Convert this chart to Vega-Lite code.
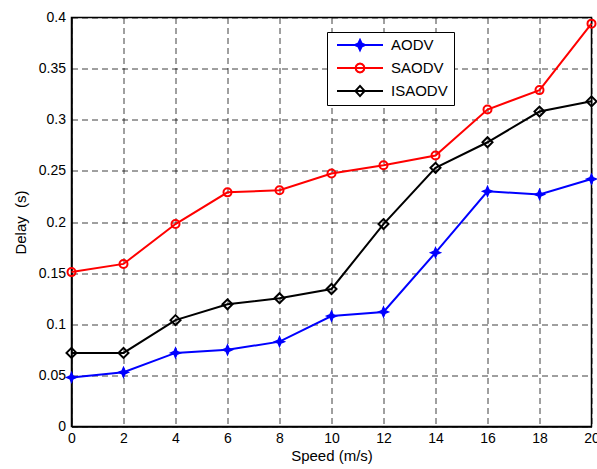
{
  "$schema": "https://vega.github.io/schema/vega-lite/v6.json",
  "width": 520,
  "height": 409,
  "autosize": "none",
  "padding": {"left": 71.5, "top": 17.5, "right": 5.5, "bottom": 42.5},
  "background": "white",
  "config": {
    "font": "Liberation Sans",
    "view": {"stroke": "#000", "strokeWidth": 1.5},
    "axis": {
      "labelFont": "Liberation Sans",
      "titleFont": "Liberation Sans",
      "labelColor": "#000",
      "titleColor": "#000",
      "labelFontSize": 14,
      "titleFontSize": 15,
      "titleFontWeight": "normal",
      "domainColor": "#000",
      "domainWidth": 1.5,
      "ticks": false,
      "grid": true,
      "gridColor": "#000",
      "gridOpacity": 0.75,
      "gridDash": [6, 4],
      "gridWidth": 1
    }
  },
  "data": {
    "values": [
      {"Speed": 0, "Delay": 0.048, "Protocol": "AODV"},
      {"Speed": 2, "Delay": 0.053, "Protocol": "AODV"},
      {"Speed": 4, "Delay": 0.072, "Protocol": "AODV"},
      {"Speed": 6, "Delay": 0.075, "Protocol": "AODV"},
      {"Speed": 8, "Delay": 0.083, "Protocol": "AODV"},
      {"Speed": 10, "Delay": 0.108, "Protocol": "AODV"},
      {"Speed": 12, "Delay": 0.112, "Protocol": "AODV"},
      {"Speed": 14, "Delay": 0.170, "Protocol": "AODV"},
      {"Speed": 16, "Delay": 0.230, "Protocol": "AODV"},
      {"Speed": 18, "Delay": 0.227, "Protocol": "AODV"},
      {"Speed": 20, "Delay": 0.242, "Protocol": "AODV"},
      {"Speed": 0, "Delay": 0.151, "Protocol": "SAODV"},
      {"Speed": 2, "Delay": 0.159, "Protocol": "SAODV"},
      {"Speed": 4, "Delay": 0.198, "Protocol": "SAODV"},
      {"Speed": 6, "Delay": 0.229, "Protocol": "SAODV"},
      {"Speed": 8, "Delay": 0.231, "Protocol": "SAODV"},
      {"Speed": 10, "Delay": 0.2475, "Protocol": "SAODV"},
      {"Speed": 12, "Delay": 0.2555, "Protocol": "SAODV"},
      {"Speed": 14, "Delay": 0.265, "Protocol": "SAODV"},
      {"Speed": 16, "Delay": 0.310, "Protocol": "SAODV"},
      {"Speed": 18, "Delay": 0.329, "Protocol": "SAODV"},
      {"Speed": 20, "Delay": 0.394, "Protocol": "SAODV"},
      {"Speed": 0, "Delay": 0.072, "Protocol": "ISAODV"},
      {"Speed": 2, "Delay": 0.072, "Protocol": "ISAODV"},
      {"Speed": 4, "Delay": 0.104, "Protocol": "ISAODV"},
      {"Speed": 6, "Delay": 0.1195, "Protocol": "ISAODV"},
      {"Speed": 8, "Delay": 0.1255, "Protocol": "ISAODV"},
      {"Speed": 10, "Delay": 0.1345, "Protocol": "ISAODV"},
      {"Speed": 12, "Delay": 0.198, "Protocol": "ISAODV"},
      {"Speed": 14, "Delay": 0.253, "Protocol": "ISAODV"},
      {"Speed": 16, "Delay": 0.278, "Protocol": "ISAODV"},
      {"Speed": 18, "Delay": 0.308, "Protocol": "ISAODV"},
      {"Speed": 20, "Delay": 0.318, "Protocol": "ISAODV"}
    ]
  },
  "encoding": {
    "x": {
      "field": "Speed",
      "type": "quantitative",
      "scale": {"domain": [0, 20], "nice": false, "zero": false},
      "axis": {"values": [0, 2, 4, 6, 8, 10, 12, 14, 16, 18, 20], "title": "Speed (m/s)", "labelPadding": 5, "titlePadding": 3, "labelFlush": false}
    },
    "y": {
      "field": "Delay",
      "type": "quantitative",
      "scale": {"domain": [0, 0.4], "nice": false},
      "axis": {"values": [0, 0.05, 0.1, 0.15, 0.2, 0.25, 0.3, 0.35, 0.4], "format": "~g", "title": "Delay\u00a0\u00a0(s)", "labelPadding": 6, "titlePadding": 10, "labelFlush": false}
    }
  },
  "layer": [
    {
      "mark": {"type": "line", "strokeWidth": 2},
      "encoding": {
        "color": {
          "field": "Protocol",
          "type": "nominal",
          "scale": {"domain": ["AODV", "SAODV", "ISAODV"], "range": ["#0000ff", "#ff0000", "#000000"]},
          "legend": {
            "title": null,
            "orient": "none",
            "legendX": 255.5,
            "legendY": 14.5,
            "direction": "vertical",
            "strokeColor": "#000",
            "fillColor": "#fff",
            "padding": 6,
            "rowPadding": 8,
            "clipHeight": 14,
            "symbolSize": 2116,
            "symbolOffset": 3,
            "symbolStrokeWidth": 2,
            "labelFont": "Liberation Sans",
            "labelFontSize": 15,
            "labelColor": "#000",
            "labelOffset": 7,
            "encode": {
              "symbols": {
                "update": {
                  "shape": {"signal": "datum.value === 'AODV' ? 'M-1,0H1M0,-0.22L0.07,-0.07L0.22,0L0.07,0.07L0,0.22L-0.07,0.07L-0.22,0L-0.07,-0.07Z' : datum.value === 'SAODV' ? 'M-1,0H1M0.19,0L0.165,0.095L0.095,0.165L0,0.19L-0.095,0.165L-0.165,0.095L-0.19,0L-0.165,-0.095L-0.095,-0.165L0,-0.19L0.095,-0.165L0.165,-0.095Z' : 'M-1,0H1M0,-0.22L0.2,0L0,0.22L-0.2,0Z'"},
                  "fill": {"signal": "datum.value === 'AODV' ? '#0000ff' : 'transparent'"},
                  "fillOpacity": {"value": 1},
                  "strokeWidth": {"value": 2}
                }
              }
            }
          }
        }
      }
    },
    {
      "transform": [{"filter": "datum.Protocol === 'AODV'"}],
      "mark": {"type": "point", "shape": "M0,-1L0.3,-0.3L1,0L0.3,0.3L0,1L-0.3,0.3L-1,0L-0.3,-0.3Z", "size": 90, "filled": true, "color": "#0000ff", "stroke": "#0000ff", "strokeWidth": 1.5, "opacity": 1},
      "encoding": {}
    },
    {
      "transform": [{"filter": "datum.Protocol === 'SAODV'"}],
      "mark": {"type": "point", "shape": "circle", "size": 64, "filled": false, "color": "#ff0000", "strokeWidth": 2, "opacity": 1},
      "encoding": {}
    },
    {
      "transform": [{"filter": "datum.Protocol === 'ISAODV'"}],
      "mark": {"type": "point", "shape": "diamond", "size": 100, "filled": false, "color": "#000000", "strokeWidth": 2, "opacity": 1},
      "encoding": {}
    }
  ]
}
